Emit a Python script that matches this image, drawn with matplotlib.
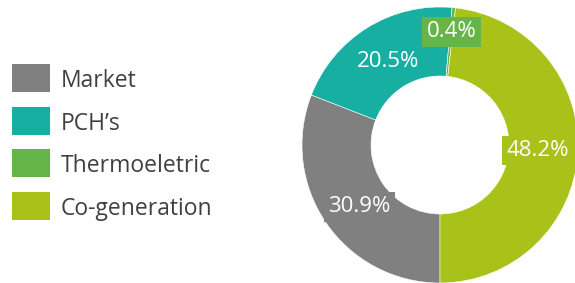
import matplotlib
matplotlib.use("Agg")
import matplotlib.pyplot as plt
from matplotlib.patches import Rectangle

categories = ["Market", "PCH\u2019s", "Thermoeletric", "Co-generation"]
values = [30.9, 20.5, 0.4, 48.2]
colors = ["#808080", "#16AFA2", "#65B548", "#A8C21A"]

plt.rcParams['font.family'] = ['Open Sans', 'DejaVu Sans']

W, H = 575, 283
fig = plt.figure(figsize=(W/100, H/100), dpi=100)
# donut axes: center (440,145) px, radius 138 px
ax = fig.add_axes([302/W, 0/H, 276/W, 276/H])
wedges, texts, autotexts = ax.pie(
    values, colors=colors, startangle=-90, counterclock=False,
    radius=1.0, wedgeprops=dict(width=0.5, edgecolor='white', linewidth=0.4),
    autopct=lambda p: f"{p:.1f}%", pctdistance=0.71,
    textprops=dict(color='white', fontsize=16))
for w, t in zip(wedges, autotexts):
    t.set_bbox(dict(boxstyle='square,pad=0.2', facecolor=w.get_facecolor(), edgecolor='none'))
# small slice label pushed outward
x, y = autotexts[2].get_position()
autotexts[2].set_position((x * 1.16, y * 1.16))
# market label slightly lower/outward as in reference
x, y = autotexts[0].get_position()
autotexts[0].set_position((x * 1.0, y * 1.12))
ax.set_xlim(-1, 1)
ax.set_ylim(-1, 1)
ax.set_aspect('equal')
ax.axis('off')

# manual legend
row0, step = 78, 42.7
for i, (cat, col) in enumerate(zip(categories, colors)):
    yc = row0 + i * step
    fig.patches.append(Rectangle((12/W, 1 - (yc + 14)/H), 38/W, 28/H,
                                 transform=fig.transFigure, facecolor=col, edgecolor='none'))
    fig.text(61/W, 1 - yc/H, cat, fontsize=16.5, color='#404040', va='center_baseline', ha='left')

fig.savefig("out.png", dpi=100)
